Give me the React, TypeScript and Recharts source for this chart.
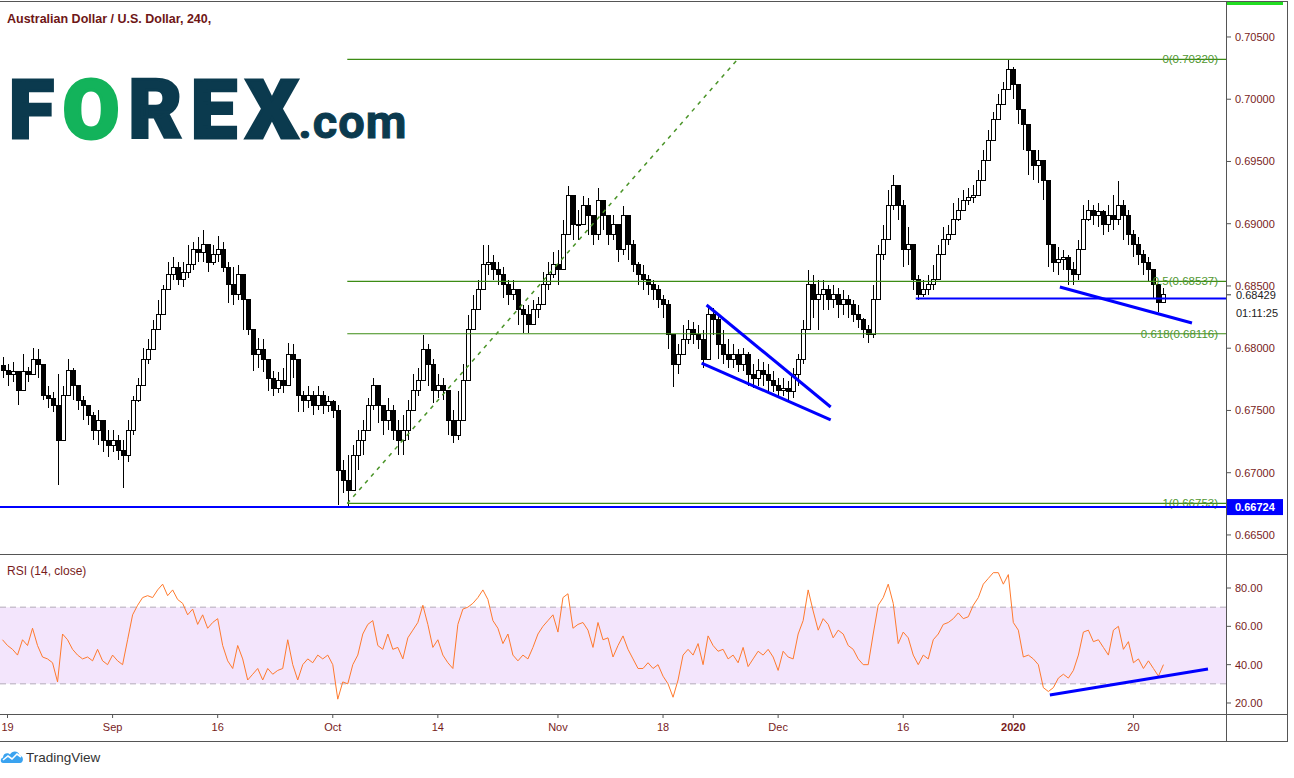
import React from "react";
import { ComposedChart, Bar, Line, XAxis, YAxis, ReferenceLine, ReferenceArea } from "recharts";

// AUD/USD 4h (roughly 2.5 bars per candle here)
const closes = [
  0.6782, 0.6779, 0.6781, 0.6766, 0.6781, 0.6779, 0.6791, 0.6787, 0.6762, 0.676,
  0.6754, 0.6726, 0.6762, 0.6782, 0.677, 0.6758, 0.6754, 0.6746, 0.6734, 0.6742,
  0.6726, 0.6722, 0.6726, 0.6718, 0.6714, 0.6734, 0.6758, 0.677, 0.6791, 0.6799,
  0.6815, 0.6827, 0.6847, 0.6859, 0.6865, 0.6855, 0.6861, 0.6867, 0.6879, 0.6877,
  0.6883, 0.6869, 0.6875, 0.6879, 0.6865, 0.6851, 0.6843, 0.6859, 0.6839, 0.6815,
  0.6795, 0.6799, 0.6791, 0.6776, 0.6768, 0.6774, 0.677, 0.6795, 0.6791, 0.6762,
  0.6758, 0.6762, 0.6754, 0.6762, 0.6754, 0.6757, 0.675, 0.6702, 0.6694, 0.6686,
  0.6714, 0.6726, 0.6734, 0.6754, 0.677, 0.6754, 0.6742, 0.675, 0.6734, 0.6726,
  0.6734, 0.675, 0.6766, 0.6774, 0.6799, 0.6787, 0.6766, 0.677, 0.6766, 0.6742,
  0.673, 0.6742, 0.6774, 0.6815, 0.6831, 0.6847, 0.6867, 0.6869, 0.6863, 0.6859,
  0.6851, 0.6843, 0.6847, 0.6831, 0.6827, 0.6819, 0.6831, 0.6835, 0.6851, 0.6859,
  0.6867, 0.6863, 0.6891, 0.6923, 0.6899, 0.6899, 0.6915, 0.6907, 0.6891, 0.6919,
  0.6907, 0.6891, 0.6899, 0.6879, 0.6907, 0.6883, 0.6867, 0.6859, 0.6855, 0.6851,
  0.6847, 0.6839, 0.6835, 0.6811, 0.6787, 0.6795, 0.6807, 0.6815, 0.6811, 0.6807,
  0.6791, 0.6827, 0.6823, 0.6803, 0.6795, 0.6791, 0.6795, 0.6787, 0.6795, 0.6779,
  0.6776, 0.6782, 0.6779, 0.6774, 0.677, 0.6766, 0.6768, 0.6765, 0.6779, 0.6791,
  0.6815, 0.6851, 0.6839, 0.6843, 0.6847, 0.6839, 0.6843, 0.6835, 0.6839, 0.6835,
  0.6827, 0.6823, 0.6815, 0.6811, 0.6839, 0.6875, 0.6887, 0.6915, 0.6931, 0.6915,
  0.6879, 0.6883, 0.6855, 0.6843, 0.6847, 0.6851, 0.6855, 0.6875, 0.6887, 0.6891,
  0.6903, 0.6911, 0.6919, 0.6921, 0.6923, 0.6935, 0.6951, 0.6967, 0.6984, 0.6996,
  0.7008, 0.7024, 0.7012, 0.6992, 0.698, 0.6959, 0.6947, 0.6951, 0.6935, 0.6883,
  0.6869, 0.6871, 0.6873, 0.6863, 0.6859, 0.6879, 0.6903, 0.6911, 0.6907, 0.691,
  0.6899, 0.6907, 0.6903, 0.6915, 0.6907, 0.6891, 0.6883, 0.6875, 0.6869, 0.6863,
  0.6851, 0.6837, 0.68429,
];

const highs = [
  0.6793, 0.6787, 0.6789, 0.6779, 0.6795, 0.6785, 0.68, 0.6799, 0.6779, 0.677,
  0.6765, 0.6779, 0.677, 0.6791, 0.6784, 0.677, 0.6762, 0.6754, 0.6749, 0.675,
  0.6742, 0.6734, 0.6734, 0.673, 0.6726, 0.6742, 0.6762, 0.6776, 0.68, 0.6807,
  0.6823, 0.6839, 0.6851, 0.6869, 0.6873, 0.6869, 0.6869, 0.6883, 0.6885, 0.6889,
  0.6895, 0.6879, 0.6883, 0.689, 0.6885, 0.6869, 0.6865, 0.6867, 0.6859, 0.6839,
  0.6815, 0.6808, 0.6807, 0.6789, 0.6782, 0.6781, 0.6784, 0.6804, 0.6803, 0.6787,
  0.6766, 0.677, 0.6766, 0.677, 0.6766, 0.6762, 0.6758, 0.6754, 0.671, 0.6714,
  0.6722, 0.6734, 0.6742, 0.676, 0.6776, 0.677, 0.6754, 0.676, 0.6754, 0.6742,
  0.6746, 0.6758, 0.6779, 0.6784, 0.6811, 0.6803, 0.6791, 0.6779, 0.6776, 0.6762,
  0.675, 0.6766, 0.6787, 0.6827, 0.6843, 0.6855, 0.6883, 0.6883, 0.6875, 0.6869,
  0.6865, 0.6855, 0.6855, 0.6844, 0.6835, 0.6835, 0.6839, 0.6841, 0.6861, 0.6869,
  0.6877, 0.6879, 0.6903, 0.693, 0.6919, 0.6911, 0.6922, 0.6921, 0.6907, 0.6929,
  0.6919, 0.6907, 0.6907, 0.6895, 0.6914, 0.6907, 0.6887, 0.6869, 0.6867, 0.6859,
  0.6855, 0.6851, 0.6843, 0.6839, 0.6807, 0.6803, 0.6819, 0.6823, 0.6821, 0.6819,
  0.6815, 0.6835, 0.6832, 0.6827, 0.6815, 0.6807, 0.6803, 0.6799, 0.68, 0.6797,
  0.6787, 0.6791, 0.6789, 0.6787, 0.6782, 0.6776, 0.6776, 0.6774, 0.6784, 0.6795,
  0.6823, 0.6863, 0.6859, 0.6855, 0.6855, 0.6851, 0.6851, 0.6848, 0.6847, 0.6843,
  0.6839, 0.6835, 0.6824, 0.6819, 0.6851, 0.6883, 0.6899, 0.6927, 0.6939, 0.6927,
  0.6919, 0.6897, 0.6883, 0.6859, 0.6855, 0.6859, 0.6867, 0.6883, 0.6897, 0.6899,
  0.6917, 0.6921, 0.6927, 0.6929, 0.6931, 0.6943, 0.6959, 0.6975, 0.699, 0.7004,
  0.7014, 0.7032, 0.7026, 0.7008, 0.6992, 0.6971, 0.6959, 0.6959, 0.6947, 0.6923,
  0.6879, 0.6881, 0.6879, 0.6875, 0.6869, 0.6887, 0.6915, 0.6919, 0.6915, 0.6917,
  0.6911, 0.6915, 0.6923, 0.6934, 0.6919, 0.6911, 0.6895, 0.6889, 0.6879, 0.6873,
  0.6861, 0.6851, 0.6848,
];

const lows = [
  0.6776, 0.677, 0.6773, 0.6754, 0.6774, 0.6773, 0.6781, 0.6776, 0.6758, 0.6752,
  0.6749, 0.669, 0.6726, 0.6762, 0.6758, 0.675, 0.6742, 0.6738, 0.6726, 0.6722,
  0.6717, 0.6713, 0.6717, 0.671, 0.6688, 0.6709, 0.673, 0.6757, 0.6774, 0.6787,
  0.6805, 0.6815, 0.6833, 0.6847, 0.6855, 0.6851, 0.6849, 0.6856, 0.6863, 0.6869,
  0.6869, 0.6861, 0.6867, 0.6869, 0.6861, 0.6836, 0.6835, 0.6839, 0.6815, 0.6811,
  0.6782, 0.6784, 0.6781, 0.6766, 0.6762, 0.6764, 0.6764, 0.6776, 0.6776, 0.6749,
  0.6749, 0.6752, 0.6746, 0.675, 0.6747, 0.6749, 0.6744, 0.6674, 0.6684, 0.6672,
  0.6694, 0.6702, 0.6714, 0.6738, 0.675, 0.674, 0.673, 0.6734, 0.6726, 0.6714,
  0.6714, 0.6726, 0.675, 0.6762, 0.6779, 0.677, 0.6756, 0.676, 0.6758, 0.673,
  0.6724, 0.6726, 0.6754, 0.6791, 0.6819, 0.6831, 0.6851, 0.6859, 0.6855, 0.6851,
  0.684, 0.6835, 0.6839, 0.6819, 0.6812, 0.6812, 0.6819, 0.6824, 0.6843, 0.6847,
  0.6856, 0.6851, 0.6875, 0.6907, 0.6887, 0.6887, 0.6899, 0.6891, 0.6883, 0.6887,
  0.6895, 0.6883, 0.6887, 0.6869, 0.6875, 0.6871, 0.6861, 0.6851, 0.6847, 0.6843,
  0.6839, 0.6832, 0.6824, 0.6799, 0.6769, 0.6779, 0.6795, 0.6803, 0.6803, 0.6799,
  0.6784, 0.6791, 0.6811, 0.6791, 0.6787, 0.6784, 0.6784, 0.6781, 0.6782, 0.677,
  0.6768, 0.677, 0.677, 0.6766, 0.6765, 0.6761, 0.6762, 0.6758, 0.676, 0.677,
  0.6787, 0.6823, 0.6824, 0.6815, 0.6831, 0.6831, 0.6832, 0.6824, 0.6827, 0.6824,
  0.6821, 0.6816, 0.6808, 0.6804, 0.6808, 0.6839, 0.6871, 0.6887, 0.6911, 0.6903,
  0.6865, 0.6867, 0.6847, 0.6839, 0.6841, 0.6843, 0.6847, 0.6859, 0.6875, 0.6883,
  0.6895, 0.6902, 0.6911, 0.6915, 0.6917, 0.6923, 0.6939, 0.6951, 0.6971, 0.6988,
  0.6996, 0.7008, 0.7, 0.698, 0.6959, 0.6939, 0.6935, 0.6933, 0.6919, 0.6865,
  0.6861, 0.6859, 0.6863, 0.6851, 0.6851, 0.6855, 0.6879, 0.6902, 0.6899, 0.6897,
  0.6891, 0.6893, 0.6895, 0.6899, 0.6887, 0.6883, 0.6873, 0.6867, 0.6859, 0.6853,
  0.684, 0.6829, 0.6837,
];

const firstOpen = 0.6786;

// RSI(14, close), same candles
const rsiValues = [
  53, 50, 48, 45, 53, 50, 59, 50, 44, 43,
  41, 31, 56, 53, 48, 45, 43, 44, 42, 48,
  42, 40, 45, 42, 40, 53, 66, 71, 75, 76,
  75, 79, 82, 76, 79, 74, 72, 66, 69, 61,
  66, 59, 62, 64, 50, 42, 38, 50, 43, 32,
  35, 38, 32, 38, 35, 37, 38, 53, 40, 32,
  40, 43, 41, 45, 43, 45, 40, 22, 31, 30,
  40, 45, 56, 61, 63, 50, 48, 56, 48, 49,
  43, 54, 58, 62, 71, 61, 49, 53, 45, 41,
  38, 61, 69, 70, 72, 75, 79, 74, 63, 59,
  51, 56, 45, 42, 45, 43, 49, 56, 60, 63,
  66, 57, 75, 77, 59, 61, 62, 58, 49, 62,
  53, 54, 44, 50, 55, 48, 43, 38, 38, 41,
  38, 40, 34, 30, 23, 32, 45, 48, 45, 51,
  40, 55, 50, 47, 48, 43, 45, 41, 49, 39,
  43, 47, 45, 48, 44, 37, 47, 44, 43, 56,
  63, 79, 68, 58, 64, 61, 54, 58, 56, 50,
  48, 43, 40, 40, 56, 71, 75, 82, 72, 51,
  57, 54, 45, 40, 45, 43, 53, 56, 61, 62,
  64, 67, 64, 65, 71, 75, 82, 85, 88, 88,
  82, 87, 62, 58, 44, 45, 43, 40, 28, 26,
  28, 33, 35, 33, 37, 45, 57, 58, 52, 53,
  49, 45, 58, 60, 48, 52, 41, 43, 38, 42,
  38, 34, 40,
];

const dateTicks = [1, 22, 43, 66, 87, 111, 132, 155, 180, 202, 226];
const dateLabels = ["19", "Sep", "16", "Oct", "14", "Nov", "18", "Dec", "16", "2020", "20"];
const priceTicks = [0.665, 0.67, 0.675, 0.68, 0.685, 0.69, 0.695, 0.7, 0.705];
const rsiTicks = [20, 40, 60, 80];

// fib retracement drawn from the Oct low to the Dec high
const fibStart = 68.9;
const fibEnd = 146.9;
const fibLevels = [
  { ratio: "0", price: 0.7032 },
  { ratio: "0.5", price: 0.68537 },
  { ratio: "0.618", price: 0.68116 },
  { ratio: "1", price: 0.66753 },
];
const supportPrice = 0.66724;
const shelfPrice = 0.684;
const countdown = "01:11:25";

// hand-drawn blue trend lines [x index, price]
const wedgeTop = [[140.7, 0.68347], [165.5, 0.67528]];
const wedgeBottom = [[139.7, 0.67881], [165.5, 0.67424]];
const fallingLine = [[211.3, 0.68492], [237.7, 0.68203]];
const rsiTrend = [[209.3, 24.2], [240.9, 37.7]];

const X_DOMAIN: [number, number] = [-0.5, 244.5];
const FONT = '"Liberation Sans", Arial, sans-serif';
const MAROON = "#781c1c";
const BLUE = "#0000ff";
const FIB_LINE = "#3c8c14";
const FIB_TEXT = "#4f9630";

const candles = closes.map((c, i) => {
  const o = i === 0 ? firstOpen : closes[i - 1];
  const hi = Math.max(highs[i], o, c);
  const lo = Math.min(lows[i], o, c);
  return { i, open: o, close: c, high: hi, low: lo, range: [lo, hi] };
});
const rsiData = rsiValues.map((v, i) => ({ i, rsi: v }));

const Candle = (props: any) => {
  const { x, y, width, height, payload } = props;
  if (!payload) return null;
  const { open, close, high, low } = payload;
  const top = Math.min(y, y + height);
  const span = Math.abs(height);
  const toPx = (v: number) => top + ((high - v) / (high - low || 1)) * span;
  const yo = toPx(open);
  const yc = toPx(close);
  const cx = Math.round(x + width / 2) + 0.5;
  const bodyTop = Math.min(yo, yc);
  const bodyH = Math.max(1, Math.abs(yo - yc));
  return (
    <g shapeRendering="crispEdges">
      <line x1={cx} x2={cx} y1={top} y2={top + span} stroke="#000" />
      <rect
        x={cx - 2}
        y={bodyTop}
        width={4}
        height={bodyH}
        fill={close >= open ? "#fff" : "#000"}
        stroke="#000"
      />
    </g>
  );
};

const fibLabel = (text: string) => (props: any) => {
  const { x, y, width } = props.viewBox;
  return (
    <text x={x + width - 8} y={y} textAnchor="end" dominantBaseline="central"
      fontSize={11.5} fontFamily={FONT} fill={FIB_TEXT}>
      {text}
    </text>
  );
};

const SupportTag = (props: any) => {
  const { x, y, width } = props.viewBox;
  const ax = x + width;
  return (
    <g>
      <rect x={ax + 1} y={y - 8} width={56} height={16} fill={BLUE} />
      <text x={ax + 9} y={y} dominantBaseline="central" fontSize={11} fontWeight={700}
        fontFamily={FONT} fill="#fff">
        {supportPrice.toFixed(5)}
      </text>
    </g>
  );
};

const LastPriceTag = (props: any) => {
  const { x, y, width } = props.viewBox;
  const ax = x + width;
  return (
    <g>
      <rect x={ax + 1} y={y - 7} width={58} height={33} fill="#fff" />
      <line x1={ax} x2={ax + 5} y1={y} y2={y} stroke="#333" />
      <text x={ax + 10} y={y} dominantBaseline="central" fontSize={11} fontFamily={FONT} fill="#222">
        {closes[closes.length - 1].toFixed(5)}
      </text>
      <text x={ax + 10} y={y + 18} dominantBaseline="central" fontSize={11} fontFamily={FONT} fill="#222">
        {countdown}
      </text>
    </g>
  );
};

const DateTick = (props: any) => {
  const { x, y, payload } = props;
  const label = dateLabels[dateTicks.indexOf(payload.value)];
  return (
    <text x={x} y={y + 11} textAnchor="middle" fontSize={11} fontFamily={FONT} fill={MAROON}
      fontWeight={label === "2020" ? 700 : 400}>
      {label}
    </text>
  );
};

const seg = (p: number[][]) => [{ x: p[0][0], y: p[0][1] }, { x: p[1][0], y: p[1][1] }];

const line = (left: number, top: number, w: number, h: number, bg = "#555") => (
  <div style={{ position: "absolute", left, top, width: w, height: h, background: bg }} />
);

export default function App() {
  return (
    <div style={{ position: "absolute", left: 0, top: 0, width: 1294, height: 778, background: "#fff", fontFamily: FONT, overflow: "hidden" }}>
      <div style={{ position: "absolute", left: 0, top: 0 }}>
        <ComposedChart width={1294} height={554} data={candles} margin={{ top: 0, right: 7, bottom: 0, left: 0 }}>
          <XAxis dataKey="i" type="number" domain={X_DOMAIN} allowDataOverflow hide />
          <YAxis
            orientation="right"
            width={61}
            type="number"
            domain={[0.66347, 0.70797]}
            allowDataOverflow
            ticks={priceTicks}
            tickFormatter={(v: number) => v.toFixed(5)}
            axisLine={false}
            tickLine={{ stroke: "#555" }}
            tickSize={5}
            tickMargin={4}
            tick={{ fill: MAROON, fontSize: 11, fontFamily: FONT }}
          />
          {fibLevels.map((f) => (
            <ReferenceLine
              key={f.ratio}
              segment={[{ x: fibStart, y: f.price }, { x: X_DOMAIN[1], y: f.price }]}
              stroke={FIB_LINE}
              strokeOpacity={1}
              strokeWidth={1.2}
              label={fibLabel(`${f.ratio}(${f.price.toFixed(5)})`)}
            />
          ))}
          <ReferenceLine
            segment={[{ x: fibStart, y: fibLevels[3].price }, { x: fibEnd, y: fibLevels[0].price }]}
            stroke="#4a9428"
            strokeWidth={1.5}
            strokeDasharray="4 5"
          />
          <Bar dataKey="range" barSize={3} shape={<Candle />} isAnimationActive={false} />
          <ReferenceLine y={supportPrice} stroke={BLUE} strokeWidth={2} label={<SupportTag />} />
          <ReferenceLine
            segment={[{ x: 182.5, y: shelfPrice }, { x: X_DOMAIN[1], y: shelfPrice }]}
            stroke={BLUE}
            strokeWidth={2}
          />
          <ReferenceLine segment={seg(wedgeTop)} stroke={BLUE} strokeWidth={3} />
          <ReferenceLine segment={seg(wedgeBottom)} stroke={BLUE} strokeWidth={3} />
          <ReferenceLine segment={seg(fallingLine)} stroke={BLUE} strokeWidth={3} />
          <ReferenceLine y={closes[closes.length - 1]} strokeOpacity={0} label={<LastPriceTag />} />
        </ComposedChart>
      </div>

      <div style={{ position: "absolute", left: 0, top: 554 }}>
        <ComposedChart width={1294} height={187} data={rsiData} margin={{ top: 0, right: 7, bottom: 0, left: 0 }}>
          <XAxis
            dataKey="i"
            type="number"
            domain={X_DOMAIN}
            allowDataOverflow
            ticks={dateTicks}
            height={27}
            axisLine={false}
            tickLine={{ stroke: "#555" }}
            tickSize={4}
            tickMargin={2}
            tick={<DateTick />}
          />
          <YAxis
            orientation="right"
            width={61}
            type="number"
            domain={[14.26, 97.74]}
            allowDataOverflow
            ticks={rsiTicks}
            tickFormatter={(v: number) => v.toFixed(2)}
            axisLine={false}
            tickLine={{ stroke: "#555" }}
            tickSize={5}
            tickMargin={4}
            tick={{ fill: MAROON, fontSize: 11, fontFamily: FONT }}
          />
          <ReferenceArea y1={30} y2={70} fill="#f3e5fc" fillOpacity={1} stroke="none" />
          <ReferenceLine y={70} stroke="#b4aab9" strokeDasharray="6 4" />
          <ReferenceLine y={30} stroke="#b4aab9" strokeDasharray="6 4" />
          <Line dataKey="rsi" type="linear" stroke="#ff7a2e" strokeWidth={1} dot={false} isAnimationActive={false} />
          <ReferenceLine segment={seg(rsiTrend)} stroke={BLUE} strokeWidth={3} />
        </ComposedChart>
      </div>

      {/* frame */}
      {line(0, 1, 1287, 1)}
      {line(1226, 1, 1, 741)}
      {line(1287, 1, 1, 741)}
      {line(0, 554, 1287, 1)}
      {line(0, 714, 1287, 1)}
      {line(0, 741, 1287, 1)}
      {line(1227, 2, 56, 3, "#22dd22")}

      <div style={{ position: "absolute", left: 7, top: 12, fontSize: 12.5, fontWeight: 700, color: "#6e1616", whiteSpace: "nowrap" }}>
        Australian Dollar / U.S. Dollar, 240,
      </div>
      <div style={{ position: "absolute", left: 7, top: 564, fontSize: 12, color: MAROON, whiteSpace: "nowrap" }}>
        RSI (14, close)
      </div>

      <div style={{ position: "absolute", left: 9, top: 69, fontFamily: 'Roboto, "DejaVu Sans", sans-serif', fontWeight: 900, fontSize: 82, lineHeight: "82px", color: "#0b3a4e", WebkitTextStroke: "3px #0b3a4e", letterSpacing: 9, whiteSpace: "nowrap" }}>
        F<span style={{ color: "#13b35b", WebkitTextStroke: "3px #13b35b" }}>O</span>REX
        <span style={{ fontSize: 47, fontWeight: 700, letterSpacing: 1, marginLeft: -9, WebkitTextStroke: "1px #0b3a4e" }}>.com</span>
      </div>

      <div style={{ position: "absolute", left: 0, top: 749, display: "flex", alignItems: "center" }}>
        <svg width={24} height={16} viewBox="0 0 24 16">
          <path d="M3 14 C0 14 0 9 3 8.5 C3 4 8 3 10 5.5 C12 1 19 1.5 19.5 6.5 C24 6.5 24 14 20 14 Z" fill="#3aa3f0" />
          <polyline points="3,11 8,7 12,10 17,5 21,8" fill="none" stroke="#fff" strokeWidth={1.6} />
        </svg>
        <span style={{ marginLeft: 2, fontSize: 13.5, color: "#333" }}>TradingView</span>
      </div>
    </div>
  );
}
